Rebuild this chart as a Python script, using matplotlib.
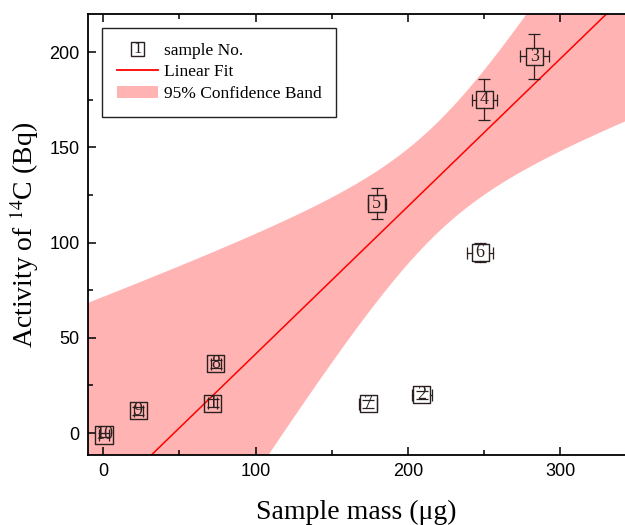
import numpy as np
import matplotlib
matplotlib.use("Agg")
from matplotlib import pyplot as plt
from matplotlib.legend_handler import HandlerBase
from matplotlib.patches import Rectangle, Patch
from matplotlib.lines import Line2D
from matplotlib.text import Text

plt.rcParams['mathtext.fontset'] = 'stix'

# samples
sample_no = [1, 2, 3, 4, 5, 6, 7, 8, 9, 10]
mass = [72, 209, 283, 250, 179.6, 247.4, 174, 74, 23, 0.5]
activity = [15.7, 20.1, 197.7, 175, 120.5, 94.7, 15.4, 36.3, 11.7, -1]
mass_err = [3, 6.5, 9.4, 8.2, 6, 8.5, 6, 3, 3, 3]
activity_err = [2, 2, 12, 10.9, 8, 5, 2, 2, 2, 1]

# linear fit and 95% band
fit_slope = 0.775
fit_icpt = -36.0
band_min = 29.0      # half width at narrowest point
band_x0 = 218.0      # where the band is narrowest
band_k = 0.475       # growth of half width per unit of x

XMIN, XMAX = -10, 342.5
YMIN, YMAX = -11.5, 220

BAND = '#FFB3B3'
DARK = '#2a2020'
MSIZE = 150   # scatter size of the square boxes


class BoxNumHandler(HandlerBase):
    # legend symbol: small square with "1" inside
    def create_artists(self, legend, orig_handle, xd, yd, w, h, fontsize, trans):
        cx = -xd + w / 2
        cy = -yd + h / 2
        s = h * 1.1
        r = Rectangle((cx - s / 2, cy - s / 2), s, s, fill=False,
                      edgecolor=DARK, lw=1.0, transform=trans)
        t = Text(cx, cy, '1', ha='center', va='center', fontsize=12,
                 family='Liberation Serif', color=DARK, transform=trans)
        return [r, t]


fig = plt.figure(figsize=(6.25, 5.25), dpi=100)
ax = fig.add_axes([88 / 625, 70 / 525, 537 / 625, 441 / 525])

x = np.linspace(XMIN, XMAX, 400)
yfit = fit_slope * x + fit_icpt
half = np.sqrt(band_min ** 2 + (band_k * (x - band_x0)) ** 2)
ax.fill_between(x, yfit - half, yfit + half, color=BAND, lw=0, zorder=1)
ax.plot(x, yfit, color='#FF0000', lw=1.1, zorder=2)

# half box size in data units, so error bars start at the box edge
half_px = np.sqrt(MSIZE) / 2 * fig.dpi / 72
hx = half_px * (XMAX - XMIN) / (537)
hy = half_px * (YMAX - YMIN) / (441)

# caps only
ax.errorbar(mass, activity, xerr=mass_err, yerr=activity_err, fmt='none',
            ecolor=DARK, elinewidth=0, capsize=4, capthick=0.9, zorder=3)
for xm, ya, ex, ey in zip(mass, activity, mass_err, activity_err):
    if ex > hx:
        ax.plot([xm - ex, xm - hx], [ya, ya], color=DARK, lw=0.9, zorder=3)
        ax.plot([xm + hx, xm + ex], [ya, ya], color=DARK, lw=0.9, zorder=3)
    if ey > hy:
        ax.plot([xm, xm], [ya - ey, ya - hy], color=DARK, lw=0.9, zorder=3)
        ax.plot([xm, xm], [ya + hy, ya + ey], color=DARK, lw=0.9, zorder=3)

ax.scatter(mass, activity, marker='s', s=MSIZE, facecolors='none',
           edgecolors=DARK, linewidths=1.0, zorder=4)
for n, xm, ya in zip(sample_no, mass, activity):
    ax.text(xm, ya, str(n), ha='center', va='center', fontsize=13,
            family='Liberation Serif', color=DARK, zorder=5)

ax.set_xlim(XMIN, XMAX)
ax.set_ylim(YMIN, YMAX)
ax.set_xticks([0, 100, 200, 300])
ax.set_xticks([50, 150, 250], minor=True)
ax.set_yticks([0, 50, 100, 150, 200])
ax.set_yticks([25, 75, 125, 175], minor=True)
ax.tick_params(which='both', direction='in', top=True, right=False,
               width=1.1, labelsize=13, pad=6)
ax.tick_params(which='major', length=6)
ax.tick_params(which='minor', length=3.5)
for lab in ax.get_xticklabels() + ax.get_yticklabels():
    lab.set_family('Liberation Sans')
ax.spines['right'].set_visible(False)
for sp in ['left', 'bottom', 'top']:
    ax.spines[sp].set_linewidth(1.3)

ax.set_xlabel('Sample mass (\u03bcg)', family='Liberation Serif', fontsize=20,
              labelpad=14)
ax.set_ylabel('Activity of $^{14}$C (Bq)', family='Liberation Serif',
              fontsize=20, labelpad=6)

handles = [object(),
           Line2D([], [], color='#FF0000', lw=1.3),
           Patch(facecolor=BAND, edgecolor='none')]
labels = ['sample No.', 'Linear Fit', '95% Confidence Band']
leg = ax.legend(handles, labels, handler_map={object: BoxNumHandler()},
                loc='upper left', bbox_to_anchor=(0.026, 0.968),
                borderaxespad=0, fancybox=False, framealpha=1,
                edgecolor='#222222', prop={'family': 'Liberation Serif', 'size': 12.5},
                handlelength=2.4, handletextpad=0.3, labelspacing=0.3,
                borderpad=0.85)
leg.get_frame().set_linewidth(1.0)

fig.savefig('out.png', dpi=100)
